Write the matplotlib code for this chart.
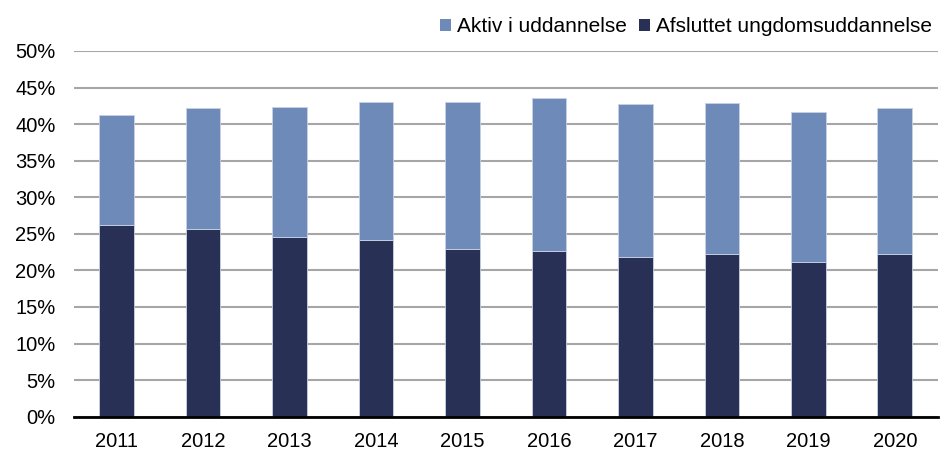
import matplotlib
matplotlib.use("Agg")
import matplotlib.pyplot as plt
from matplotlib.patches import Patch
import numpy as np

plt.rcParams['font.family'] = ['Liberation Sans', 'DejaVu Sans']

years = ['2011', '2012', '2013', '2014', '2015', '2016', '2017', '2018', '2019', '2020']
afsluttet = [26.2, 25.6, 24.6, 24.1, 22.9, 22.7, 21.9, 22.2, 21.1, 22.2]
total = [41.3, 42.2, 42.3, 43.0, 43.0, 43.6, 42.8, 42.9, 41.6, 42.2]
aktiv = [t - a for t, a in zip(total, afsluttet)]

c_aktiv = '#6D8AB9'
c_afs = '#283056'

fig = plt.figure(figsize=(9.41, 4.5), dpi=100)
ax = fig.add_axes([73.5/941, 1-416.7/450, (938-73.5)/941, (416.7-51)/450])

x = np.arange(len(years))
w = 0.4
ax.bar(x, afsluttet, w, color=c_afs, edgecolor='#C9D2E3', linewidth=0.6, zorder=3)
ax.bar(x, aktiv, w, bottom=afsluttet, color=c_aktiv, edgecolor='#C9D2E3', linewidth=0.6, zorder=3)

ax.set_xlim(-0.5, len(years) - 0.5)
ax.set_ylim(0, 50)
ax.set_yticks(np.arange(0, 51, 5))
ax.set_yticklabels([f'{v}%' for v in range(0, 51, 5)])
ax.set_xticks(x)
ax.set_xticklabels(years)
ax.tick_params(axis='both', length=0, labelsize=14.5, colors='black')
ax.tick_params(axis='y', pad=13)
ax.tick_params(axis='x', pad=11)
ax.grid(axis='y', color='#A6A6A6', linewidth=1.5, zorder=0)
for s in ['top', 'right', 'left']:
    ax.spines[s].set_visible(False)
ax.spines['bottom'].set_color('black')
ax.spines['bottom'].set_linewidth(2)
ax.spines['bottom'].set_zorder(4)

handles = [Patch(facecolor=c_aktiv, edgecolor='none'), Patch(facecolor=c_afs, edgecolor='none')]
fig.legend(handles, ['Aktiv i uddannelse', 'Afsluttet ungdomsuddannelse'],
           loc='center right', bbox_to_anchor=(942/941, 1-27/450), ncol=2, frameon=False,
           fontsize=15, handlelength=0.55, handleheight=0.55, handletextpad=0.25,
           columnspacing=0.6, borderpad=0)

fig.savefig('out.png', dpi=100)
